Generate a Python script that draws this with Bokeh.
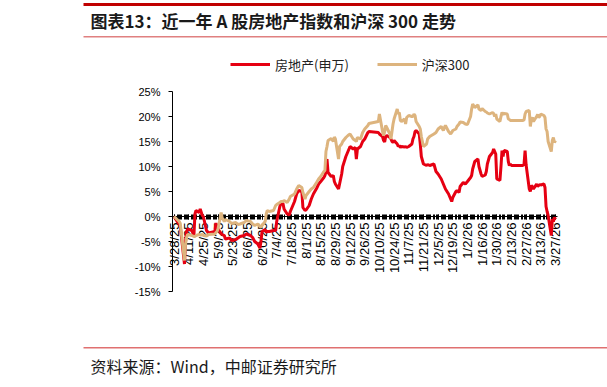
import math
import pandas as pd
from bokeh.plotting import figure
from bokeh.models import FixedTicker, Range1d, Legend, LegendItem, Label, BoxAnnotation
from bokeh.core.properties import value
from bokeh.embed import file_html
from bokeh.resources import INLINE

TITLE = "图表13：近一年 A 股房地产指数和沪深 300 走势"
SOURCE = "资料来源：Wind，中邮证券研究所"
SERIES_NAMES = ["房地产(申万)", "沪深300"]

DATES = [
    "2025-03-28", "2025-03-31", "2025-04-02", "2025-04-03", "2025-04-07", "2025-04-08", "2025-04-09", "2025-04-10", "2025-04-14", "2025-04-16",
    "2025-04-17", "2025-04-18", "2025-04-21", "2025-04-22", "2025-04-24", "2025-04-25", "2025-04-28", "2025-04-30", "2025-05-06", "2025-05-07",
    "2025-05-08", "2025-05-09", "2025-05-12", "2025-05-13", "2025-05-15", "2025-05-16", "2025-05-20", "2025-05-22", "2025-05-26", "2025-05-28",
    "2025-05-30", "2025-06-03", "2025-06-05", "2025-06-09", "2025-06-11", "2025-06-13", "2025-06-16", "2025-06-18", "2025-06-19", "2025-06-20",
    "2025-06-23", "2025-06-24", "2025-06-25", "2025-06-27", "2025-07-01", "2025-07-03", "2025-07-04", "2025-07-07", "2025-07-08", "2025-07-10",
    "2025-07-11", "2025-07-14", "2025-07-16", "2025-07-17", "2025-07-21", "2025-07-23", "2025-07-25", "2025-07-28", "2025-07-29", "2025-07-31",
    "2025-08-01", "2025-08-04", "2025-08-06", "2025-08-08", "2025-08-11", "2025-08-13", "2025-08-15", "2025-08-18", "2025-08-19", "2025-08-20",
    "2025-08-21", "2025-08-22", "2025-08-25", "2025-08-27", "2025-08-28", "2025-08-29", "2025-09-01", "2025-09-02", "2025-09-04", "2025-09-05",
    "2025-09-08", "2025-09-10", "2025-09-12", "2025-09-15", "2025-09-17", "2025-09-18", "2025-09-19", "2025-09-22", "2025-09-24", "2025-09-26",
    "2025-09-29", "2025-09-30", "2025-10-09", "2025-10-10", "2025-10-13", "2025-10-14", "2025-10-15", "2025-10-16", "2025-10-17", "2025-10-20",
    "2025-10-21", "2025-10-22", "2025-10-23", "2025-10-24", "2025-10-27", "2025-10-28", "2025-10-29", "2025-10-30", "2025-10-31", "2025-11-03",
    "2025-11-04", "2025-11-05", "2025-11-07", "2025-11-10", "2025-11-11", "2025-11-12", "2025-11-13", "2025-11-14", "2025-11-17", "2025-11-18",
    "2025-11-19", "2025-11-21", "2025-11-24", "2025-11-25", "2025-11-27", "2025-12-01", "2025-12-03", "2025-12-05", "2025-12-08", "2025-12-10",
    "2025-12-11", "2025-12-12", "2025-12-15", "2025-12-17", "2025-12-18", "2025-12-19", "2025-12-22", "2025-12-23", "2025-12-25", "2025-12-26",
    "2025-12-29", "2025-12-31", "2026-01-02", "2026-01-05", "2026-01-06", "2026-01-07", "2026-01-09", "2026-01-12", "2026-01-13", "2026-01-15",
    "2026-01-16", "2026-01-19", "2026-01-20", "2026-01-21", "2026-01-23", "2026-01-26", "2026-01-27", "2026-01-28", "2026-01-29", "2026-01-30",
    "2026-02-02", "2026-02-03", "2026-02-04", "2026-02-05", "2026-02-06", "2026-02-09", "2026-02-10", "2026-02-11", "2026-02-12", "2026-02-13",
    "2026-02-24", "2026-02-25", "2026-02-26", "2026-02-27", "2026-03-02", "2026-03-03", "2026-03-04", "2026-03-05", "2026-03-06", "2026-03-09",
    "2026-03-10", "2026-03-11", "2026-03-12", "2026-03-13", "2026-03-16", "2026-03-17", "2026-03-18", "2026-03-19", "2026-03-20", "2026-03-23",
    "2026-03-24", "2026-03-25", "2026-03-26", "2026-03-27",
]

PROPERTY = [
    0.0, -1.0, -1.5, -2.0, -9.5, -5.0, -3.0, -2.5, -2.8, -3.8,
    0.5, 1.2, 0.8, 1.5, 0.2, 0.0, -2.8, -3.3, -3.0, -1.3,
    -2.2, -2.5, -3.4, -3.6, -3.8, -4.5, -4.3, -4.8, -4.6, -4.3,
    -4.0, -3.8, -3.5, -3.8, -4.2, -5.0, -5.5, -6.3, -5.0, -3.0,
    -2.6, -3.2, -3.0, -3.0, -2.8, -2.8, -1.0, 2.0, 2.6, 2.6,
    1.5, 0.5, 0.3, 1.0, 3.0, 4.5, 5.2, 5.0, 1.8, 1.2,
    1.3, 2.2, 3.5, 4.5, 5.6, 6.5, 7.0, 7.8, 8.2, 9.0,
    11.5, 8.8, 8.0, 8.2, 7.0, 6.5, 5.5, 6.5, 8.5, 10.0,
    12.0, 13.0, 14.0, 13.5, 13.8, 11.5, 13.5, 14.0, 15.0, 15.5,
    16.8, 17.0, 16.8, 16.5, 16.0, 15.2, 14.9, 16.0, 16.2, 15.8,
    15.5, 15.0, 14.8, 15.2, 14.5, 14.0, 14.2, 13.8, 14.0, 13.9,
    14.0, 13.8, 14.0, 14.5, 15.5, 16.0, 17.0, 17.2, 16.5, 14.5,
    12.0, 10.5, 10.2, 10.4, 10.2, 10.5, 9.0, 8.5, 7.5, 6.5,
    6.0, 5.5, 4.5, 3.5, 3.0, 3.8, 5.0, 5.2, 4.8, 6.0,
    6.8, 6.5, 7.0, 7.8, 8.2, 9.5, 11.0, 11.5, 10.0, 8.5,
    8.0, 8.3, 9.0, 10.5, 12.0, 12.8, 13.5, 13.0, 12.5, 7.5,
    7.2, 10.0, 13.2, 12.0, 13.2, 13.0, 11.0, 10.2, 10.5, 10.2,
    10.2, 10.5, 13.2, 10.3, 5.5, 5.0, 6.2, 6.0, 5.5, 6.5,
    6.0, 6.2, 6.4, 6.3, 6.5, 5.8, 2.0, 1.0, 0.2, -3.8,
    -0.5, -1.0, -0.2, -0.6,
]

HS300 = [
    0.0, -0.6, -1.0, -1.4, -8.8, -5.5, -4.2, -3.6, -3.8, -4.0,
    -4.0, -3.8, -3.6, -3.7, -3.6, -3.8, -3.9, -3.6, -3.5, -3.2,
    -3.0, -2.5, 0.8, -0.3, -1.0, -0.6, -1.0, -1.4, -1.2, -1.6,
    -1.5, -1.2, -0.8, -1.0, -1.5, -1.8, -1.5, -2.0, -2.2, -1.8,
    -1.0, 0.5, 1.2, 1.0, 1.2, 2.2, 2.4, 2.8, 3.0, 3.0,
    3.2, 2.8, 3.5, 4.0, 4.5, 5.5, 6.2, 5.8, 4.8, 3.5,
    4.2, 5.0, 5.5, 5.8, 6.8, 7.5, 8.0, 9.0, 9.2, 13.0,
    14.0, 15.2, 15.6, 15.0, 15.9, 15.5, 11.5, 14.0, 14.5, 15.0,
    15.8, 16.2, 16.5, 15.5, 15.2, 15.0, 15.8, 15.5, 16.8, 17.5,
    18.2, 18.6, 19.0, 20.5, 17.0, 16.2, 17.0, 18.2, 17.8, 16.5,
    15.5, 17.0, 18.5, 19.5, 21.5, 20.5, 20.8, 19.2, 19.0, 19.5,
    18.5, 19.8, 20.2, 20.0, 20.0, 20.5, 20.2, 19.0, 18.0, 17.5,
    16.0, 14.0, 14.5, 15.5, 16.0, 16.5, 16.8, 17.5, 18.0, 17.2,
    17.8, 18.2, 17.0, 16.5, 16.8, 17.2, 17.5, 18.0, 18.5, 18.9,
    18.8, 18.5, 18.4, 20.0, 21.5, 22.5, 21.8, 22.3, 21.5, 21.2,
    21.6, 21.0, 20.9, 20.7, 20.5, 20.8, 20.6, 20.0, 20.5, 19.5,
    19.0, 20.0, 20.8, 20.4, 20.6, 20.5, 19.5, 19.4, 19.2, 19.2,
    19.2, 19.3, 20.5, 21.0, 21.2, 18.0, 19.5, 19.8, 19.0, 20.0,
    20.4, 19.8, 20.0, 20.5, 20.2, 19.8, 17.5, 17.0, 15.0, 13.0,
    15.2, 15.8, 14.8, 15.2,
]

TICK_DATES = [
    "2025-03-28", "2025-04-11", "2025-04-25", "2025-05-09", "2025-05-23", "2025-06-06", "2025-06-20",
    "2025-07-04", "2025-07-18", "2025-08-01", "2025-08-15", "2025-08-29", "2025-09-12", "2025-09-26",
    "2025-10-10", "2025-10-24", "2025-11-07", "2025-11-21", "2025-12-05", "2025-12-19", "2026-01-02",
    "2026-01-16", "2026-01-30", "2026-02-13", "2026-02-27", "2026-03-13", "2026-03-27",
]
TICK_LABELS = [
    "3/28/25", "4/11/25", "4/25/25", "5/9/25", "5/23/25", "6/6/25", "6/20/25",
    "7/4/25", "7/18/25", "8/1/25", "8/15/25", "8/29/25", "9/12/25", "9/26/25",
    "10/10/25", "10/24/25", "11/7/25", "11/21/25", "12/5/25", "12/19/25", "1/2/26",
    "1/16/26", "1/30/26", "2/13/26", "2/27/26", "3/13/26", "3/27/26",
]
Y_TICKS = [-15, -10, -5, 0, 5, 10, 15, 20, 25]
Y_TICK_LABELS = ["-15%", "-10%", "-5%", "0%", "5%", "10%", "15%", "20%", "25%"]

RED = "#E60012"
TAN = "#DDB47E"

# ---- layout (pixel geometry of the canvas) ----
W, H = 607, 387
DAY = 86400000.0
PX_T0 = 173.5        # pixel x of first tick date
PX_PER_DAY = 1.048
PX_Y0 = 216.0        # pixel y of the 0% line
PX_PER_PCT = 5.0


def ms(d):
    return pd.Timestamp(d).value / 1e6


T0 = ms(TICK_DATES[0])


def px_x(X):
    return T0 + (X - PX_T0) / PX_PER_DAY * DAY


def px_y(Y):
    return (PX_Y0 - Y) / PX_PER_PCT


x = [ms(d) for d in DATES]
tick_ms = [ms(d) for d in TICK_DATES]
minor_ms = [ms(d) for d in pd.bdate_range(DATES[0], DATES[-1])]

p = figure(width=W, height=H, x_axis_type="datetime", output_backend="svg",
           toolbar_location=None,
           x_range=Range1d(px_x(0), px_x(W)), y_range=Range1d(px_y(H), px_y(0)),
           min_border=0, min_border_left=0, min_border_right=0,
           min_border_top=0, min_border_bottom=0)
p.title.visible = False
p.outline_line_color = None
p.grid.visible = False
p.background_fill_color = "white"
p.border_fill_color = "white"

r1 = p.line(x, PROPERTY, line_color=RED, line_width=3)
r2 = p.line(x, HS300, line_color=TAN, line_width=3)

AX_LEFT = px_x(172)
AX_RIGHT = px_x(557)

xa = p.xaxis[0]
xa.ticker = FixedTicker(ticks=tick_ms, minor_ticks=minor_ms)
xa.major_label_overrides = {t: l for t, l in zip(tick_ms, TICK_LABELS)}
xa.fixed_location = 0
xa.bounds = (AX_LEFT, AX_RIGHT)
xa.major_label_orientation = math.pi / 2
xa.major_label_standoff = 3
xa.major_tick_in = 2
xa.major_tick_out = 3
xa.minor_tick_in = 2
xa.minor_tick_out = 3
xa.axis_line_color = "black"
xa.major_tick_line_color = "black"
xa.minor_tick_line_color = "black"
xa.major_label_text_font = "Liberation Sans"
xa.major_label_text_font_size = "13px"
xa.major_label_text_color = "black"
xa.level = "underlay"

ya = p.yaxis[0]
ya.ticker = FixedTicker(ticks=Y_TICKS)
ya.major_label_overrides = {t: l for t, l in zip(Y_TICKS, Y_TICK_LABELS)}
ya.fixed_location = AX_LEFT
ya.bounds = (Y_TICKS[0], Y_TICKS[-1])
ya.major_tick_in = 0
ya.major_tick_out = 4
ya.minor_tick_line_color = None
ya.major_label_standoff = 8
ya.axis_line_color = "black"
ya.major_tick_line_color = "black"
ya.major_label_text_font = "Liberation Sans"
ya.major_label_text_font_size = "11px"
ya.major_label_text_color = "black"

legend = Legend(
    items=[LegendItem(label=value(SERIES_NAMES[0]), renderers=[r1]),
           LegendItem(label=value(SERIES_NAMES[1]), renderers=[r2])],
    orientation="horizontal", location=(230, H - 73.5),
    glyph_width=40, glyph_height=16, label_height=16, label_standoff=5, spacing=28,
    padding=0, margin=0, border_line_color=None, background_fill_alpha=0,
    label_text_font="Noto Sans CJK SC", label_text_font_size="13px", label_text_color="#222222",
)
p.add_layout(legend)

# header / footer rules
for top, bottom, color in [(2.5, 5.5, "#C00000"), (35.5, 37, "#E08080"), (346.5, 348, "#E07070")]:
    p.add_layout(BoxAnnotation(left=px_x(83), right=px_x(W), top=px_y(top), bottom=px_y(bottom),
                               fill_color=color, fill_alpha=1, line_color=None, level="overlay"))

p.add_layout(Label(x=px_x(90), y=px_y(20), text=TITLE,
                   text_font="Noto Sans CJK SC", text_font_style="bold", text_font_size="17px",
                   text_baseline="middle", text_align="left", text_color="#1a1a1a"))
p.add_layout(Label(x=px_x(90), y=px_y(365), text=SOURCE,
                   text_font="Noto Sans CJK SC", text_font_size="16px",
                   text_baseline="middle", text_align="left", text_color="#1a1a1a"))

open("out.html", "w").write(file_html(p, INLINE))
